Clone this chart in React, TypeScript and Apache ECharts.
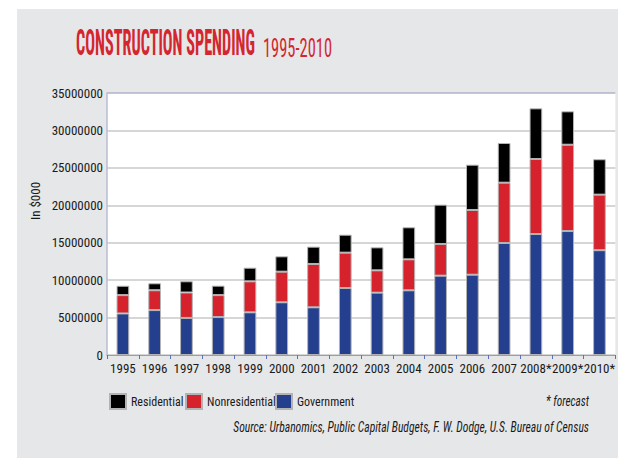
import React, { useEffect, useRef } from "react";
import * as echarts from "echarts";

// Values in $000
const years = ["1995", "1996", "1997", "1998", "1999", "2000", "2001", "2002", "2003", "2004", "2005", "2006", "2007", "2008*", "2009*", "2010*"];
const government = [5550000, 6000000, 4950000, 5070000, 5700000, 7040000, 6370000, 8950000, 8330000, 8640000, 10600000, 10730000, 14960000, 16160000, 16560000, 14000000];
const nonresidential = [2450000, 2650000, 3400000, 2930000, 4140000, 4090000, 5790000, 4720000, 2980000, 4140000, 4230000, 8640000, 8060000, 10020000, 11530000, 7420000];
const residential = [1250000, 930000, 1500000, 1260000, 1820000, 2050000, 2310000, 2400000, 3070000, 4280000, 5250000, 6050000, 5300000, 6770000, 4460000, 4730000];
const yTicks = { min: 0, max: 35000000, interval: 5000000 };

const FAMILY = '"Roboto Condensed", "DejaVu Sans Condensed", "Liberation Sans", sans-serif';

function measure(text: string, font: string): number {
  const ctx = document.createElement("canvas").getContext("2d");
  if (!ctx) return 0;
  ctx.font = font;
  return ctx.measureText(text).width;
}
function fitScale(text: string, font: string, target: number): number {
  const w = measure(text, font);
  return w > 0 ? target / w : 1;
}

export default function App() {
  const ref = useRef<HTMLDivElement>(null);
  useEffect(() => {
    if (!ref.current) return;
    const chart = echarts.init(ref.current, undefined, { renderer: "svg" });
    const fam = FAMILY;

    const titleText = "CONSTRUCTION SPENDING";
    const titleScale = fitScale(titleText, `bold 36px ${fam}`, 179);
    const yearsText = "1995-2010";
    const yearsScale = fitScale(yearsText, `normal 25px ${fam}`, 69);
    const srcText = "Source: Urbanomics, Public Capital Budgets, F. W. Dodge, U.S. Bureau of Census";
    const srcScale = fitScale(srcText, `italic 15px ${fam}`, 356);
    const fcText = "* forecast";
    const fcScale = fitScale(fcText, `italic 15px ${fam}`, 43);

    const border = { borderColor: "#b3b3b3", borderWidth: 1 };
    const mkLegend = (name: string, left: number) => ({
      data: [name],
      left,
      top: 393,
      icon: "rect",
      itemWidth: 16,
      itemHeight: 15,
      padding: 0,
      selectedMode: false,
      textStyle: { fontFamily: fam, fontSize: 12, color: "#1a1a1a" },
    });

    chart.setOption({
      animation: false,
      backgroundColor: "#ffffff",
      textStyle: { fontFamily: fam },
      graphic: [
        { type: "rect", z: -10, silent: true, shape: { x: 17, y: 9, width: 601, height: 449 }, style: { fill: "#e6e7e9" } },
        {
          type: "text", x: 76, y: 43, scaleX: titleScale,
          style: { text: titleText, fontFamily: fam, fontSize: 36, fontWeight: "bold", fill: "#d4262e", align: "left", verticalAlign: "middle" },
        },
        {
          type: "text", x: 263, y: 48, scaleX: yearsScale,
          style: { text: yearsText, fontFamily: fam, fontSize: 25, fill: "#d4262e", align: "left", verticalAlign: "middle" },
        },
        {
          type: "text", x: 589, y: 401, scaleX: fcScale,
          style: { text: fcText, fontFamily: fam, fontSize: 15, fontStyle: "italic", fill: "#1a1a1a", align: "right", verticalAlign: "middle" },
        },
        {
          type: "text", x: 589, y: 427, scaleX: srcScale,
          style: { text: srcText, fontFamily: fam, fontSize: 15, fontStyle: "italic", fill: "#1a1a1a", align: "right", verticalAlign: "middle" },
        },
      ],
      legend: [mkLegend("Residential", 109), mkLegend("Nonresidential", 185), mkLegend("Government", 275)],
      grid: { left: 107, right: 0, top: 93, bottom: 103, show: true, backgroundColor: "#ffffff", borderWidth: 0 },
      xAxis: {
        type: "category",
        data: years,
        boundaryGap: true,
        axisLine: { lineStyle: { color: "#8d9dd2", width: 1 } },
        axisTick: { show: true, length: 4, lineStyle: { color: "#5a6fbf", width: 1 } },
        axisLabel: {
          interval: 0,
          margin: 7,
          color: "#1a1a1a",
          fontFamily: fam,
          fontSize: 13,
        },
      },
      yAxis: {
        type: "value",
        min: yTicks.min,
        max: yTicks.max,
        interval: yTicks.interval,
        name: "In $000",
        nameLocation: "middle",
        nameRotate: 90,
        nameGap: 65,
        nameMoveOverlap: false,
        nameTextStyle: { fontFamily: fam, fontSize: 13, color: "#1a1a1a", padding: [0, 0, 0, 46] },
        axisLine: { show: true, lineStyle: { color: "#b8bdd0", width: 1.5 } },
        axisTick: { show: false },
        axisLabel: { margin: 4, color: "#1a1a1a", fontFamily: fam, fontSize: 13, formatter: (v: number) => String(v) },
        splitLine: {
          lineStyle: {
            color: ["#c9c9c9", "#c9c9c9", "#c9c9c9", "#c9c9c9", "#c9c9c9", "#c9c9c9", "#c9c9c9", "#aeb3ca"],
            width: 1.5,
          },
        },
      },
      series: [
        { name: "Government", type: "bar", stack: "total", barWidth: "40%", data: government, itemStyle: { color: "#233f8e", ...border } },
        { name: "Nonresidential", type: "bar", stack: "total", barWidth: "40%", data: nonresidential, itemStyle: { color: "#d6222c", ...border } },
        { name: "Residential", type: "bar", stack: "total", barWidth: "40%", data: residential, itemStyle: { color: "#000000", ...border } },
      ],
    });
    return () => chart.dispose();
  }, []);
  return <div ref={ref} style={{ position: "absolute", left: 0, top: 0, width: 618, height: 458 }} />;
}
